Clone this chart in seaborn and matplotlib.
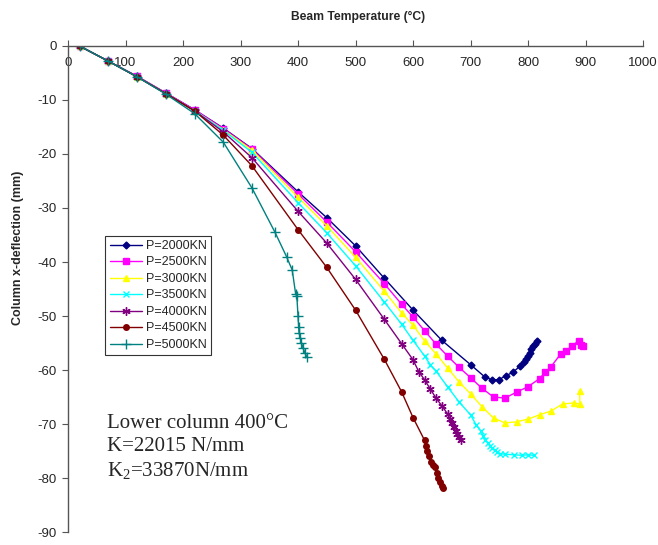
import numpy as np
import pandas as pd
import matplotlib
matplotlib.use("Agg")
import matplotlib.pyplot as plt
import seaborn as sns

# Beam temperature (C) and column x-deflection (mm) for each load case
t_2000 = [20, 70, 120, 170, 220, 270, 320, 400, 450, 500, 550, 600, 650, 700, 725, 737, 749,
          761, 774, 786, 793, 797, 800, 803, 806, 809, 812, 815]
d_2000 = [0, -2.8, -5.6, -8.7, -11.8, -15.2, -19.0, -27.0, -31.8, -37.0, -43.0, -48.9, -54.5,
          -59.0, -61.3, -61.8, -61.8, -61.1, -60.4, -59.3, -58.5, -58.0, -57.4, -56.8, -56.2,
          -55.6, -55.1, -54.6]

t_2500 = [20, 70, 120, 170, 220, 270, 320, 400, 450, 500, 550, 580, 600, 620, 640, 660, 680,
          700, 720, 740, 760, 780, 800, 820, 830, 840, 857, 866, 877, 888, 893, 896]
d_2500 = [0, -2.8, -5.6, -8.7, -11.8, -15.3, -19.1, -27.4, -32.6, -38.1, -44.0, -47.8, -50.2,
          -52.7, -55.2, -57.4, -59.5, -61.4, -63.4, -65.0, -65.2, -64.1, -63.1, -61.6, -60.4,
          -59.4, -57.0, -56.5, -55.5, -54.6, -55.3, -55.6]

t_3000 = [20, 70, 120, 170, 220, 270, 320, 400, 450, 500, 550, 580, 600, 620, 640, 660, 680,
          700, 720, 740, 760, 780, 800, 820, 840, 860, 880, 890, 890]
d_3000 = [0, -2.8, -5.7, -8.8, -12.0, -15.5, -19.3, -28.0, -33.3, -39.1, -45.4, -49.4, -51.7,
          -54.6, -57.0, -59.6, -62.2, -64.4, -66.8, -68.9, -69.8, -69.6, -69.1, -68.3, -67.6,
          -66.3, -66.1, -66.3, -63.8]

t_3500 = [20, 70, 120, 170, 220, 270, 320, 400, 450, 500, 550, 580, 600, 620, 630, 640, 660,
          680, 700, 710, 718, 722, 726, 730, 734, 738, 742, 746, 752, 760, 775, 790, 800, 810]
d_3500 = [0, -2.8, -5.7, -8.8, -12.0, -15.6, -19.7, -29.0, -34.6, -40.7, -47.4, -51.5, -54.5,
          -57.4, -59.0, -60.2, -63.1, -65.9, -68.3, -70.2, -71.3, -72.2, -72.9, -73.5, -74.0,
          -74.5, -74.9, -75.2, -75.5, -75.6, -75.7, -75.8, -75.7, -75.8]

t_4000 = [20, 70, 120, 170, 220, 270, 320, 400, 450, 500, 550, 580, 600, 610, 620, 630, 640,
          650, 660, 664, 668, 671, 674, 677, 680, 683]
d_4000 = [0, -2.8, -5.7, -8.8, -12.0, -15.9, -20.7, -30.6, -36.5, -43.2, -50.6, -55.1, -58.1,
          -60.3, -61.8, -63.5, -65.2, -66.6, -68.1, -69.0, -69.8, -70.6, -71.3, -71.9, -72.4,
          -73.0]

t_4500 = [20, 70, 120, 170, 220, 270, 320, 400, 450, 500, 550, 580, 600, 620, 622, 625, 628,
          631, 634, 638, 641, 644, 647, 650, 653]
d_4500 = [0, -2.8, -5.7, -8.8, -12.0, -16.5, -22.2, -34.0, -41.0, -48.9, -58.0, -64.0, -68.8,
          -73.0, -74.0, -75.0, -76.0, -77.0, -77.6, -78.0, -79.0, -80.0, -80.8, -81.4, -81.8]

t_5000 = [20, 70, 120, 170, 220, 270, 320, 360, 380, 390, 396, 398, 400, 401, 402, 404, 406,
          409, 412, 415]
d_5000 = [0, -2.8, -5.7, -8.9, -12.5, -17.8, -26.3, -34.5, -39.0, -41.5, -46.0, -46.3, -50.0,
          -52.0, -53.2, -54.0, -55.0, -56.0, -56.8, -57.5]

labels = ["P=2000KN", "P=2500KN", "P=3000KN", "P=3500KN", "P=4000KN", "P=4500KN", "P=5000KN"]
temps = [t_2000, t_2500, t_3000, t_3500, t_4000, t_4500, t_5000]
defls = [d_2000, d_2500, d_3000, d_3500, d_4000, d_4500, d_5000]

colors = ["#000080", "#ff00ff", "#ffff00", "#00ffff", "#800080", "#800000", "#008080"]
markers = ["D", "s", "^", "x", (6, 2, 0), "o", "+"]
msizes = [3.5, 4.5, 4.5, 5, 6, 4, 7]

sns.set_style("ticks")
plt.rcParams["font.family"] = ["Liberation Sans", "DejaVu Sans"]
plt.rcParams["axes.unicode_minus"] = False
plt.rcParams["mathtext.fontset"] = "custom"
plt.rcParams["mathtext.rm"] = "Liberation Serif"
plt.rcParams["mathtext.it"] = "Liberation Serif:italic"

fig = plt.figure(figsize=(6.58, 5.45), dpi=100)
ax = fig.add_axes([68 / 658, 1 - 532 / 545, (643 - 68) / 658, (532 - 46) / 545])

for t, d, lab, c, m, ms in zip(temps, defls, labels, colors, markers, msizes):
    df = pd.DataFrame({"T": t, "D": d})
    sns.lineplot(data=df, x="T", y="D", sort=False, estimator=None, color=c, marker=m,
                 markersize=ms, markeredgecolor=c, markeredgewidth=1, linewidth=1,
                 label=lab, ax=ax)

ax.set_xlim(0, 1000)
ax.set_ylim(-90, 0)
ax.set_xticks(np.arange(0, 1001, 100))
ax.set_yticks(np.arange(-90, 1, 10))
ax.spines["bottom"].set_position(("data", 0))
ax.spines["top"].set_visible(False)
ax.spines["right"].set_visible(False)
for s in ("bottom", "left"):
    ax.spines[s].set_color("#555555")
    ax.spines[s].set_linewidth(1)
ax.tick_params(axis="x", direction="in", length=4, labelsize=9.5, pad=8, color="#555555")
ax.tick_params(axis="y", direction="out", length=4, labelsize=9.5, pad=4, color="#555555")
ax.set_xlabel("")
ax.set_ylabel("")

fig.text(358 / 658, 1 - 17 / 545, "Beam Temperature (°C)", ha="center", va="center",
         fontsize=8.7, fontweight="bold")
fig.text(18 / 658, 1 - 248 / 545, "Column x-deflection (mm)", ha="center", va="center",
         rotation=90, fontsize=9, fontweight="bold")

leg = ax.legend(loc="upper left", bbox_to_anchor=(0.065, 0.61), frameon=True,
                fancybox=False, framealpha=1, edgecolor="#333333", fontsize=9,
                handlelength=2.6, handletextpad=0.3, borderpad=0.35, labelspacing=0.36,
                borderaxespad=0)
leg.get_frame().set_linewidth(0.8)

ax.text(67, -68.2, "Lower column 400°C\nK=22015 N/mm\nK$_\\mathrm{2}$=33870N/mm", ha="left",
        va="top", fontsize=15, linespacing=1.25, family=["Liberation Serif", "DejaVu Serif"])

fig.savefig("out.png", dpi=100)
